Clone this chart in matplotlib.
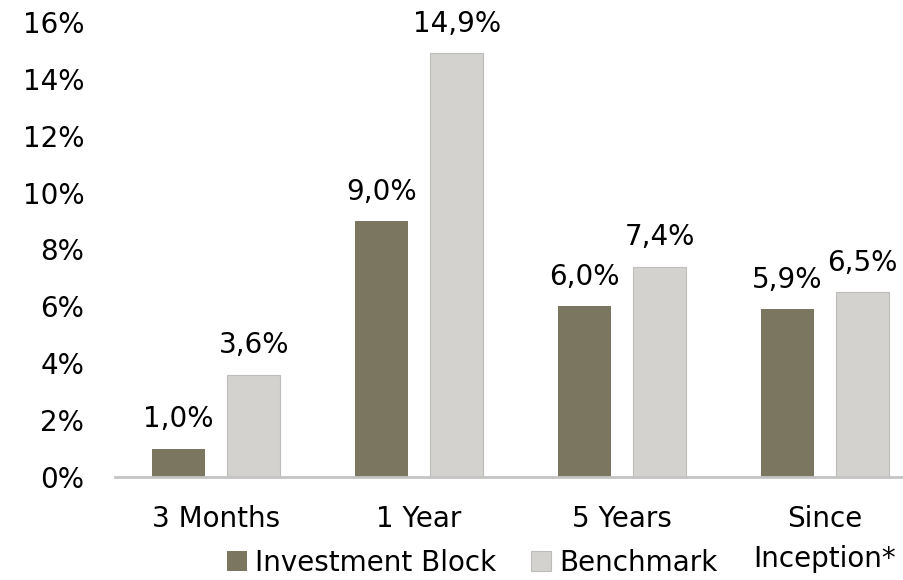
#!/usr/bin/env python3
"""Performance bar chart: Investment Block vs Benchmark."""

import matplotlib
matplotlib.use('Agg')
import matplotlib.pyplot as plt
import numpy as np

# Data
categories = ['3 Months', '1 Year', '5 Years', 'Since\nInception*']
investment_block = [1.0, 9.0, 6.0, 5.9]
benchmark = [3.6, 14.9, 7.4, 6.5]
y_ticks = [0, 2, 4, 6, 8, 10, 12, 14, 16]

COLORS = {
    'Investment Block': '#7a7660',
    'Benchmark': '#d3d2cf',
}

plt.rcParams.update({
    'font.family': 'DejaVu Sans',
    'font.size': 20,
})


def pct(v):
    return f"{v:.1f}%".replace('.', ',')


def main():
    fig = plt.figure(figsize=(9.04, 5.8), dpi=100)
    ax = fig.add_axes([0.127, 0.1776, 0.873, 0.7845])

    x = np.arange(len(categories))
    width = 0.26
    offset = 0.185

    b1 = ax.bar(x - offset, investment_block, width, color=COLORS['Investment Block'],
                label='Investment Block')
    b2 = ax.bar(x + offset, benchmark, width, color=COLORS['Benchmark'],
                edgecolor='#bdbcb8', linewidth=0.8, label='Benchmark')

    ax.bar_label(b1, labels=[pct(v) for v in investment_block], padding=11, fontsize=20)
    ax.bar_label(b2, labels=[pct(v) for v in benchmark], padding=11, fontsize=20)

    ax.set_xlim(-0.5, 3.39)
    ax.set_ylim(0, 16)
    ax.set_yticks(y_ticks)
    ax.set_yticklabels([f"{t}%" for t in y_ticks])
    ax.set_xticks(x)
    ax.set_xticklabels(categories, linespacing=1.55, va='top')

    for s in ['top', 'right', 'left']:
        ax.spines[s].set_visible(False)
    ax.spines['bottom'].set_color('#c4c4c4')
    ax.spines['bottom'].set_linewidth(2)

    ax.tick_params(axis='y', length=0, pad=22, labelsize=20)
    ax.tick_params(axis='x', length=0, pad=20, labelsize=20)

    fig.legend(loc='center', bbox_to_anchor=(0.522, 0.03), ncol=2, frameon=False,
               handlelength=0.72, handleheight=0.72, handletextpad=0.3,
               columnspacing=1.25, borderpad=0, fontsize=20)

    fig.savefig('out.png', dpi=100)
    plt.close(fig)


if __name__ == '__main__':
    main()
